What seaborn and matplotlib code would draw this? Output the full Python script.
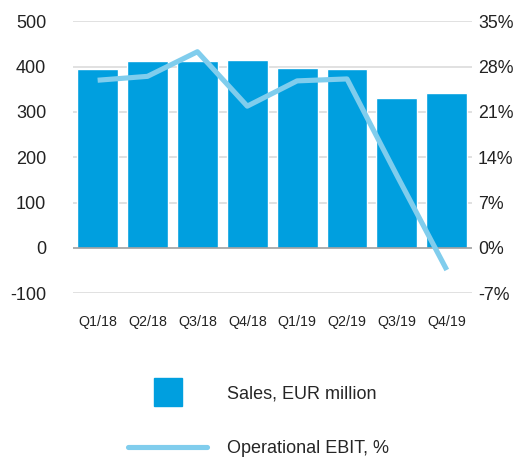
import numpy as np
import pandas as pd
import seaborn as sns
import matplotlib.pyplot as plt
from matplotlib.lines import Line2D

# Data
quarters = ["Q1/18", "Q2/18", "Q3/18", "Q4/18", "Q1/19", "Q2/19", "Q3/19", "Q4/19"]
sales = [395, 413, 413, 415, 397, 395, 331, 342]
ebit_pct = [25.9, 26.5, 30.3, 21.9, 25.8, 26.1, 11.2, -3.4]

left_ticks = [-100, 0, 100, 200, 300, 400, 500]
right_ticks = [-7, 0, 7, 14, 21, 28, 35]

BAR_COLOR = "#009fdf"
LINE_COLOR = "#80cded"

sns.set_style("white")
plt.rcParams["font.family"] = ["Liberation Sans", "DejaVu Sans"]

df = pd.DataFrame({"quarter": quarters, "sales": sales, "ebit": ebit_pct})
df["pos"] = np.arange(len(df))

fig = plt.figure(figsize=(5.17, 4.58), dpi=100)
ax = fig.add_axes([0.1406, 0.3596, 0.7718, 0.5939])

sns.barplot(data=df, x="quarter", y="sales", color=BAR_COLOR, saturation=1,
            width=0.82, ax=ax, zorder=2)
ax.set_ylim(-100, 500)
ax.set_xlim(-0.5, len(quarters) - 0.5)
ax.set_yticks(left_ticks)
ax.set_yticklabels([str(t) for t in left_ticks])
for t in left_ticks:
    if t == 0:
        ax.axhline(t, color="#a0a0a0", lw=1.2, zorder=3)
    else:
        ax.axhline(t, color="#dcdcdc", lw=1.2, zorder=0.5)
ax.set_xlabel("")
ax.set_ylabel("")
ax.tick_params(axis="both", length=0, labelsize=13, colors="#222222")
ax.tick_params(axis="x", labelsize=10.3, pad=15.5)
ax.tick_params(axis="y", pad=19)
for s in ax.spines.values():
    s.set_visible(False)

ax2 = ax.twinx()
sns.lineplot(data=df, x="pos", y="ebit", color=LINE_COLOR, lw=3.7, ax=ax2,
             zorder=4, solid_capstyle="butt")
ax2.set_ylim(-7, 35)
ax2.set_yticks(right_ticks)
ax2.set_yticklabels([f"{t}%" for t in right_ticks])
ax2.set_ylabel("")
ax2.set_xlabel("")
ax2.tick_params(axis="y", length=0, labelsize=12.8, colors="#222222", pad=4.5)
for s in ax2.spines.values():
    s.set_visible(False)

handles = [
    Line2D([], [], color=BAR_COLOR, marker="s", markersize=19.5, linestyle="none"),
    Line2D([], [], color=LINE_COLOR, lw=3.7),
]
fig.legend(handles, ["Sales, EUR million", "Operational EBIT, %"],
           loc="upper left", bbox_to_anchor=(0.2476, 0.159), frameon=False,
           fontsize=13, handlelength=4.4, handletextpad=1.1,
           labelspacing=2.12, borderaxespad=0, borderpad=0)

fig.savefig("out.png", dpi=100)
